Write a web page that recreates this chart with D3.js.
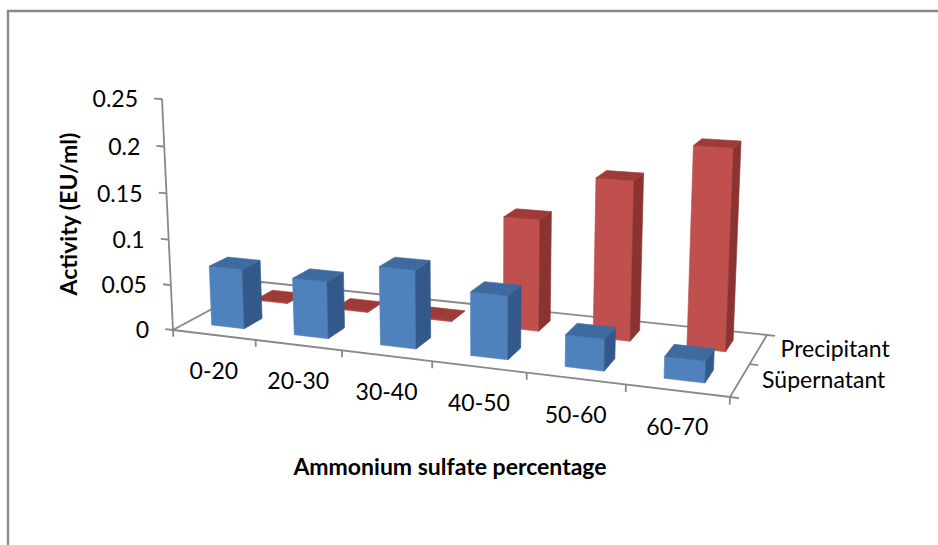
<!DOCTYPE html>
<html>
<head>
<meta charset="utf-8">
<script src="https://cdn.jsdelivr.net/npm/d3@7"></script>
<style>
  body { margin: 0; background: #fff; }
  text { font-family: Lato, "Open Sans", sans-serif; fill: #000; }
</style>
</head>
<body>
<svg id="chart" width="938" height="545"></svg>
<script>
// ---- data ----
const categories = ["0-20", "20-30", "30-40", "40-50", "50-60", "60-70"];
const seriesNames = ["Süpernatant", "Precipitant"];          // front row, back row
const supernatant = [0.066, 0.062, 0.084, 0.067, 0.033, 0.022];
const precipitant = [0.001, 0.001, 0.001, 0.122, 0.171, 0.211];
const valueTicks = [0, 0.05, 0.1, 0.15, 0.2, 0.25];
const valueTickLabels = ["0", "0.05", "0.1", "0.15", "0.2", "0.25"];

// ---- layout of the perspective box (screen px) ----
const floorCorners = { fl: [173, 330], fr: [730, 397], br: [767, 335], bl: [262, 282] };
const axisTop = [162, 99];            // top of the value axis above the front-left corner
const verticalPerspective = -0.0347;  // convergence of vertical edges

const colors = {
  Süpernatant: { front: "#4f81bd", side: "#33598a", top: "#3e6aa0" },
  Precipitant: { front: "#c0504d", side: "#8a3331", top: "#9e3b38" }
};
const axisColor = "#898989";
const labelSize = 23;

// ---- scales (world units: s across categories, t in depth, r up) ----
const xBand = d3.scaleBand().domain(categories).range([0, 1]).paddingInner(0.6).paddingOuter(0.3);
const xCat = d3.scaleBand().domain(categories).range([0, 1]);
const zBand = d3.scaleBand().domain(seriesNames).range([0, 1]).paddingInner(0.6).paddingOuter(0.3);
const zRow = d3.scaleBand().domain(seriesNames).range([0, 1]);
const y = d3.scaleLinear().domain([0, 0.25]).range([0, 1]);

// projective map: floor square -> floor quad, plus the vertical direction
function makeProjection() {
  const [x0, y0] = floorCorners.fl, [x1, y1] = floorCorners.fr,
        [x2, y2] = floorCorners.br, [x3, y3] = floorCorners.bl;
  const dx1 = x1 - x2, dx2 = x3 - x2, dx3 = x0 - x1 + x2 - x3;
  const dy1 = y1 - y2, dy2 = y3 - y2, dy3 = y0 - y1 + y2 - y3;
  const den = dx1 * dy2 - dx2 * dy1;
  const g = (dx3 * dy2 - dx2 * dy3) / den;
  const h = (dx1 * dy3 - dx3 * dy1) / den;
  const a = x1 - x0 + g * x1, b = x3 - x0 + h * x3, c = x0;
  const d = y1 - y0 + g * y1, e = y3 - y0 + h * y3, f = y0;
  const m = verticalPerspective;
  const p = axisTop[0] * (1 + m) - c, q = axisTop[1] * (1 + m) - f;
  return (s, t, r) => {
    const w = g * s + h * t + 1 + m * r;
    return [(a * s + b * t + c + p * r) / w, (d * s + e * t + f + q * r) / w];
  };
}
const project = makeProjection();

const svg = d3.select("#chart");
const line = d3.line();
const poly = pts => line(pts.map(pt => project(...pt))) + "Z";

// chart area frame
svg.append("path")
  .attr("d", "M8,545V11H938")
  .attr("fill", "none").attr("stroke", "#8a8a8a").attr("stroke-width", 2.4);

const axes = svg.append("g").attr("stroke", axisColor).attr("stroke-width", 1.8).attr("fill", "none");

// floor outline
axes.append("path").attr("d", poly([[0, 0, 0], [1, 0, 0], [1, 1, 0], [0, 1, 0]]));

// value axis with ticks
axes.append("path").attr("d", line([project(0, 0, 0), project(0, 0, 1)]));
valueTicks.forEach(v => {
  axes.append("path").attr("d", line([project(0, 0, y(v)), project(-0.016, 0, y(v))]));
});

// category ticks
d3.range(categories.length + 1).forEach(k => {
  const s = k / categories.length;
  axes.append("path").attr("d", line([project(s, 0, 0), project(s, 0, -0.03)]));
});

// depth ticks
[0, 0.5, 1].forEach(t => {
  axes.append("path").attr("d", line([project(1, t, 0), project(1.014, t, 0)]));
});

// value labels
valueTicks.forEach((v, i) => {
  const [px, py] = project(0, 0, y(v));
  svg.append("text")
    .attr("x", px - 24).attr("y", py).attr("dy", "0.36em")
    .attr("text-anchor", "end").attr("font-size", labelSize)
    .text(valueTickLabels[i]);
});

// category labels
categories.forEach(cat => {
  const [px, py] = project(xCat(cat) + xCat.bandwidth() / 2, 0, 0);
  svg.append("text")
    .attr("x", px).attr("y", py + 36).attr("dy", "0.36em")
    .attr("text-anchor", "middle").attr("font-size", labelSize)
    .text(cat);
});

// series labels along the depth axis
seriesNames.forEach(name => {
  const [px, py] = project(1, zRow(name) + zRow.bandwidth() / 2, 0);
  svg.append("text")
    .attr("x", px + 22).attr("y", py).attr("dy", "0.36em")
    .attr("text-anchor", "start").attr("font-size", labelSize)
    .text(name);
});

// bars: back row first, each row left (far) to right (near)
const rows = [
  { name: "Precipitant", values: precipitant },
  { name: "Süpernatant", values: supernatant }
];
rows.forEach(row => {
  const col = colors[row.name];
  const g = svg.append("g");
  categories.forEach((cat, i) => {
    const s0 = xBand(cat), s1 = s0 + xBand.bandwidth();
    const t0 = zBand(row.name), t1 = t0 + zBand.bandwidth();
    const r = y(row.values[i]);
    const faces = [
      { pts: [[s0, t0, 0], [s1, t0, 0], [s1, t0, r], [s0, t0, r]], fill: col.front },
      { pts: [[s1, t0, 0], [s1, t1, 0], [s1, t1, r], [s1, t0, r]], fill: col.side },
      { pts: [[s0, t0, r], [s1, t0, r], [s1, t1, r], [s0, t1, r]], fill: col.top }
    ];
    faces.forEach(fc => {
      g.append("path").attr("d", poly(fc.pts))
        .attr("fill", fc.fill).attr("stroke", fc.fill).attr("stroke-width", 0.6)
        .attr("stroke-linejoin", "round");
    });
  });
});

// axis titles
svg.append("text")
  .attr("transform", "translate(69,214) rotate(-90)")
  .attr("dy", "0.36em").attr("text-anchor", "middle")
  .attr("font-size", labelSize).attr("font-weight", "bold")
  .text("Activity (EU/ml)");

svg.append("text")
  .attr("x", 450).attr("y", 467).attr("dy", "0.36em")
  .attr("text-anchor", "middle")
  .attr("font-size", labelSize).attr("font-weight", "bold")
  .text("Ammonium sulfate percentage");
</script>
</body>
</html>
